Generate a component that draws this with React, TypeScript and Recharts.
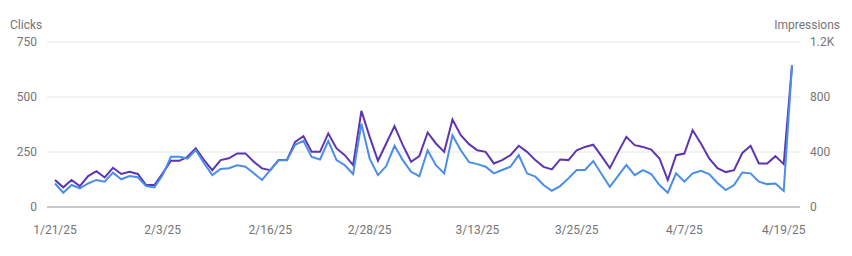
import { CartesianGrid, Line, LineChart, XAxis, YAxis } from "recharts";

const dates = [
  "1/21/25", "1/22/25", "1/23/25", "1/24/25", "1/25/25", "1/26/25", "1/27/25", "1/28/25", "1/29/25", "1/30/25", "1/31/25",
  "2/1/25", "2/2/25", "2/3/25", "2/4/25", "2/5/25", "2/6/25", "2/7/25", "2/8/25", "2/9/25", "2/10/25",
  "2/11/25", "2/12/25", "2/13/25", "2/14/25", "2/15/25", "2/16/25", "2/17/25", "2/18/25", "2/19/25", "2/20/25",
  "2/21/25", "2/22/25", "2/23/25", "2/24/25", "2/25/25", "2/26/25", "2/27/25", "2/28/25",
  "3/1/25", "3/2/25", "3/3/25", "3/4/25", "3/5/25", "3/6/25", "3/7/25", "3/8/25", "3/9/25", "3/10/25",
  "3/11/25", "3/12/25", "3/13/25", "3/14/25", "3/15/25", "3/16/25", "3/17/25", "3/18/25", "3/19/25", "3/20/25",
  "3/21/25", "3/22/25", "3/23/25", "3/24/25", "3/25/25", "3/26/25", "3/27/25", "3/28/25", "3/29/25", "3/30/25", "3/31/25",
  "4/1/25", "4/2/25", "4/3/25", "4/4/25", "4/5/25", "4/6/25", "4/7/25", "4/8/25", "4/9/25", "4/10/25",
  "4/11/25", "4/12/25", "4/13/25", "4/14/25", "4/15/25", "4/16/25", "4/17/25", "4/18/25", "4/19/25", "4/20/25",
];

const clicks = [
  107, 65, 100, 85, 107, 123, 115, 156, 126, 141, 135, 95, 89, 145, 228, 228, 220, 259, 199, 145,
  173, 176, 190, 183, 153, 123, 168, 213, 213, 283, 301, 228, 216, 300, 213, 190, 150, 379, 220, 145,
  186, 278, 213, 160, 140, 258, 190, 153, 326, 258, 204, 195, 183, 153, 168, 183, 236, 153, 138, 100,
  74, 95, 130, 168, 168, 209, 150, 92, 141, 191, 145, 168, 150, 100, 65, 153, 115, 153, 165, 150,
  109, 77, 100, 157, 153, 115, 104, 107, 73, 643,
];

const impressions = [
  196, 143, 196, 152, 225, 261, 215, 285, 240, 256, 240, 160, 160, 245, 336, 336, 365, 426, 341, 268,
  341, 354, 390, 390, 329, 281, 268, 341, 341, 474, 515, 401, 401, 535, 426, 377, 305, 699, 510, 336,
  462, 588, 450, 329, 370, 542, 462, 401, 636, 522, 457, 413, 401, 317, 341, 377, 445, 401, 341, 292,
  273, 346, 341, 413, 437, 453, 370, 283, 399, 510, 450, 437, 418, 353, 196, 377, 389, 558, 462, 353,
  283, 254, 268, 393, 445, 317, 317, 370, 312, 1030,
];

const dateTicks = ["1/21/25", "2/3/25", "2/16/25", "2/28/25", "3/13/25", "3/25/25", "4/7/25", "4/19/25"];
const clickTicks = [0, 250, 500, 750];
const impressionTicks = [0, 400, 800, 1200];

const data = dates.map((date, i) => ({ date, clicks: clicks[i], impressions: impressions[i] }));

const tickStyle = { fill: "#757575", fontSize: 12, fontFamily: "Roboto, sans-serif" };
const titleStyle = {
  position: "absolute" as const,
  top: 18,
  fontSize: 12,
  lineHeight: "14px",
  color: "#757575",
};

function formatImpressions(v: number) {
  return v >= 1000 ? `${v / 1000}K` : `${v}`;
}

export default function App() {
  return (
    <div
      style={{
        position: "absolute",
        left: 0,
        top: 0,
        width: 852,
        height: 256,
        background: "#fff",
        fontFamily: "Roboto, sans-serif",
      }}
    >
      <span style={{ ...titleStyle, left: 10 }}>Clicks</span>
      <span style={{ ...titleStyle, right: 12 }}>Impressions</span>
      <LineChart width={852} height={256} data={data} margin={{ top: 42, right: 0, bottom: 0, left: 0 }}>
        <CartesianGrid yAxisId="clicks" vertical={false} stroke="#e6e6e6" />
        <XAxis
          dataKey="date"
          ticks={dateTicks}
          interval={0}
          height={49}
          tickLine={false}
          tickMargin={12}
          padding={{ left: 8, right: 8 }}
          axisLine={{ stroke: "#9e9e9e" }}
          tick={tickStyle}
        />
        <YAxis
          yAxisId="clicks"
          orientation="left"
          width={47}
          domain={[0, 750]}
          ticks={clickTicks}
          axisLine={false}
          tickLine={false}
          tickMargin={4}
          tick={tickStyle}
        />
        <YAxis
          yAxisId="impressions"
          orientation="right"
          width={52}
          domain={[0, 1200]}
          ticks={impressionTicks}
          tickFormatter={formatImpressions}
          axisLine={false}
          tickLine={false}
          tickMargin={4}
          tick={{ ...tickStyle, textAnchor: "start" }}
        />
        <Line
          yAxisId="impressions"
          dataKey="impressions"
          type="linear"
          stroke="#5e35b1"
          strokeWidth={2}
          dot={false}
          activeDot={false}
          isAnimationActive={false}
        />
        <Line
          yAxisId="clicks"
          dataKey="clicks"
          type="linear"
          stroke="#4a8ee6"
          strokeWidth={2}
          dot={false}
          activeDot={false}
          isAnimationActive={false}
        />
      </LineChart>
    </div>
  );
}
